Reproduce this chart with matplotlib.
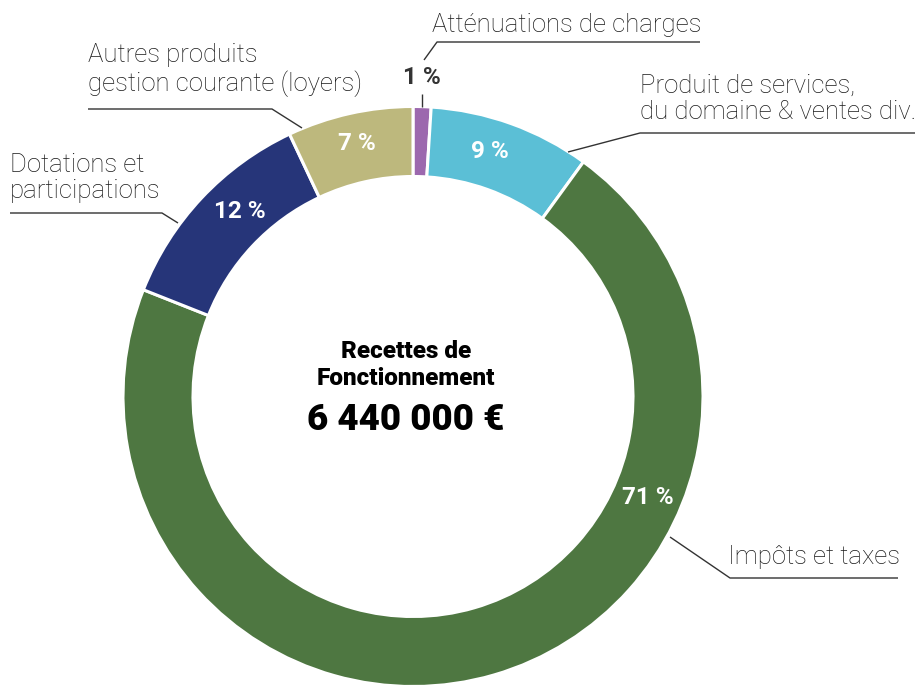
import matplotlib.pyplot as plt

plt.rcParams["font.family"] = ["Roboto", "DejaVu Sans"]

INK = "#1A1A1A"

# data, clockwise from 12 o'clock
categories = ["Atténuations de charges", "Produit de services, du domaine & ventes div.",
              "Impôts et taxes", "Dotations et participations",
              "Autres produits gestion courante (loyers)"]
shares = [1, 9, 71, 12, 7]
colors = ["#9C68AE", "#5BBFD6", "#4E7741", "#263579", "#BDB87D"]
total_label = "6 440 000 €"

fig = plt.figure(figsize=(9.15, 6.86), dpi=100)
ax = fig.add_axes([0, 0, 1, 1])

# axis is in pixel units with y pointing down, so the pie is mirrored:
# counterclock=True + startangle=-90 gives clockwise from the top on screen
ax.pie(shares, colors=colors, startangle=-90, counterclock=True,
       center=(413, 396.5), radius=290,
       wedgeprops=dict(width=70, edgecolor="white", linewidth=2.2))
ax.set_xlim(0, 915)
ax.set_ylim(686, 0)
ax.axis("off")


def line(xs, ys):
    ax.plot(xs, ys, color="#333333", lw=1.0, solid_capstyle="butt")


def label(x, y, s, ha="left"):
    ax.text(x, y, s, ha=ha, va="center", fontsize=18.5, weight="light",
            color=INK, linespacing=1.12)


def pct(x, y, s, color="white"):
    ax.text(x, y, s, ha="center", va="center", fontsize=17.5, weight="bold",
            color=color)


# category labels + leaders
label(432, 25, "Atténuations de charges")
line([424, 437, 700], [60, 42, 42])
line([422, 422], [94, 107])

label(640, 99, "Produit de services,\ndu domaine & ventes div.")
line([568, 640, 915], [152, 133, 133])

label(88, 70, "Autres produits\ngestion courante (loyers)")
line([302, 272, 88], [128, 109, 109])

label(10, 178, "Dotations et\nparticipations")
line([178, 162, 10], [223, 213, 213])

label(728, 557, "Impôts et taxes")
line([670, 730, 898], [537, 578, 578])

# percentages
pct(422, 77, f"{shares[0]} %", color="#333333")
pct(490, 152, f"{shares[1]} %")
pct(648, 497, f"{shares[2]} %")
pct(240, 212, f"{shares[3]} %")
pct(357, 143, f"{shares[4]} %")

# centre
ax.text(406, 365, "Recettes de\nFonctionnement", ha="center", va="center",
        fontsize=17.5, weight="heavy", color="black", linespacing=1.25)
ax.text(406, 420, total_label, ha="center", va="center", fontsize=26.5,
        weight="heavy", color="black")

fig.savefig("out.png", dpi=100)
